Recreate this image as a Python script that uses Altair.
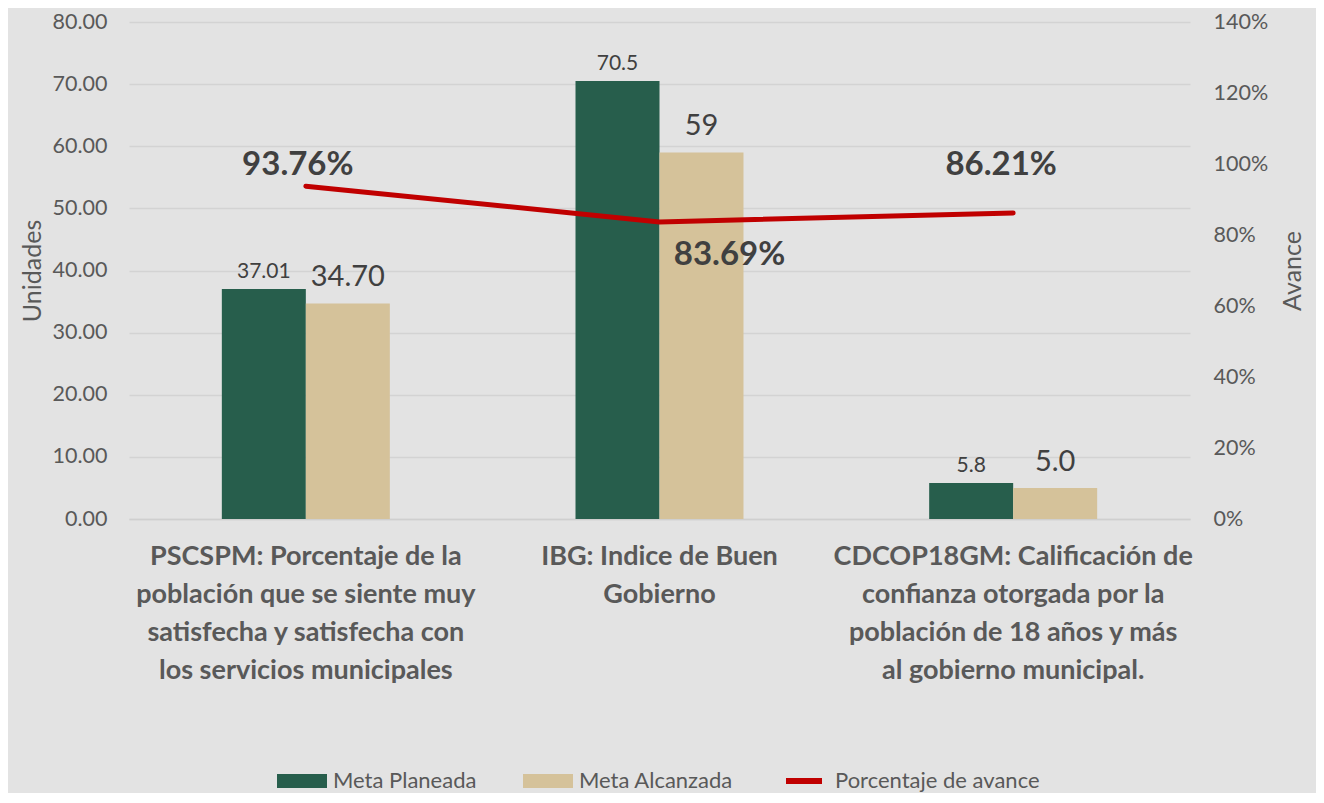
import json
import altair as alt
import pandas as pd

FONT = "Lato"

categories = [
    "PSCSPM: Porcentaje de la población que se siente muy satisfecha y satisfecha con los servicios municipales",
    "IBG: Indice de Buen Gobierno",
    "CDCOP18GM: Calificación de confianza otorgada por la población de 18 años y más al gobierno municipal.",
]
category_lines = [
    ["PSCSPM: Porcentaje de la", "población que se siente muy", "satisfecha y satisfecha con", "los servicios municipales"],
    ["IBG: Indice de Buen", "Gobierno"],
    ["CDCOP18GM: Calificación de", "confianza otorgada por la", "población de 18 años y más", "al gobierno municipal."],
]
series = ["Meta Planeada", "Meta Alcanzada", "Porcentaje de avance"]
meta_planeada = [37.01, 70.5, 5.8]
meta_alcanzada = [34.70, 59.0, 5.0]
planeada_labels = ["37.01", "70.5", "5.8"]
alcanzada_labels = ["34.70", "59", "5.0"]
avance = [0.9376, 0.8369, 0.8621]
avance_labels = ["93.76%", "83.69%", "86.21%"]
colors = ["#275E4C", "#D5C29A", "#C00000"]

bars_df = pd.DataFrame(
    [{"cat": c, "serie": series[0], "value": v, "label": l}
     for c, v, l in zip(categories, meta_planeada, planeada_labels)]
    + [{"cat": c, "serie": series[1], "value": v, "label": l}
       for c, v, l in zip(categories, meta_alcanzada, alcanzada_labels)]
)
line_df = pd.DataFrame({"cat": categories, "avance": avance, "label": avance_labels})
legend_df = pd.DataFrame({"serie": series})

label_expr = " : ".join(
    f"datum.label == {json.dumps(c, ensure_ascii=False)} ? {json.dumps(l, ensure_ascii=False)}"
    for c, l in zip(categories, category_lines)
) + " : datum.label"

PLOT_H = 497

x_axis = alt.Axis(
    title=None, labelExpr=label_expr, labelAngle=0, labelFontSize=27, labelFontWeight="bold",
    labelColor="#595959", labelFont=FONT, labelLineHeight=38, labelPadding=24, labelLimit=500,
    ticks=False, domainColor="#cfcfcf", domainWidth=1.5, grid=False,
)
X = alt.X("cat:N", sort=categories, axis=x_axis,
          scale=alt.Scale(paddingInner=0.525, paddingOuter=0.2625))

y_left_axis = alt.Axis(
    title="Unidades", values=list(range(0, 81, 10)), format=".2f", labelFontSize=21.5,
    labelColor="#595959", labelFont=FONT, labelPadding=22, ticks=False, domain=False,
    grid=True, gridColor="#d3d3d3", gridWidth=1.5, titleFontSize=25, titleFont=FONT,
    titleFontWeight="normal", titleColor="#595959", titleAngle=270,
    titleX=-97, titleY=PLOT_H / 2, titleAlign="center", titleBaseline="middle",
)
Y_LEFT = alt.Y("value:Q", scale=alt.Scale(domain=[0, 80], nice=False), axis=y_left_axis)

y_right_axis = alt.Axis(
    title="Avance", orient="right", values=[0, 0.2, 0.4, 0.6, 0.8, 1.0, 1.2, 1.4], format=".0%",
    labelFontSize=21.5, labelColor="#595959", labelFont=FONT, labelPadding=23, ticks=False,
    domain=False, grid=False, titleFontSize=25, titleFont=FONT, titleFontWeight="normal",
    titleColor="#595959", titleAngle=270, titleX=102, titleY=PLOT_H / 2,
    titleAlign="center", titleBaseline="middle",
)
Y_RIGHT = alt.Y("avance:Q", scale=alt.Scale(domain=[0, 1.4], nice=False), axis=y_right_axis)

color_scale = alt.Scale(domain=series, range=colors)
shape_scale = alt.Scale(
    domain=series,
    range=["M-1,-0.28H1V0.28H-1Z", "M-1,-0.28H1V0.28H-1Z", "M-0.72,-0.12H0.72V0.12H-0.72Z"],
)
XOFF = alt.XOffset("serie:N", sort=series[:2], scale=alt.Scale(domain=series[:2]))

bars = alt.Chart(bars_df).mark_bar(stroke=None).encode(
    x=X, y=Y_LEFT, xOffset=XOFF,
    fill=alt.Fill("serie:N", scale=alt.Scale(domain=series[:2], range=colors[:2]), legend=None),
)

lbl_plan = alt.Chart(bars_df).transform_filter(alt.datum.serie == series[0]).mark_text(
    font=FONT, fontSize=21, color="#404040", baseline="alphabetic", dy=-11
).encode(x=X, y=Y_LEFT, xOffset=XOFF, text="label:N")

lbl_alc = alt.Chart(bars_df).transform_filter(alt.datum.serie == series[1]).mark_text(
    font=FONT, fontSize=29, color="#404040", baseline="alphabetic", dy=-17
).encode(x=X, y=Y_LEFT, xOffset=XOFF, text="label:N")

# legend only: no marks drawn (empty after filter), legend entries come from the scale domain
legend_pts = alt.Chart(legend_df).transform_filter("false").mark_point(
    filled=True, size=2500, opacity=1
).encode(
    color=alt.Color("serie:N", scale=color_scale, legend=alt.Legend(
        title=None, orient="none", direction="horizontal", legendX=148, legendY=734,
        symbolSize=2500, symbolOpacity=1, symbolStrokeWidth=0, labelFontSize=22,
        labelColor="#595959", labelFont=FONT, columnPadding=46, labelOffset=6, labelLimit=500,
    )),
    shape=alt.Shape("serie:N", scale=shape_scale),
)

left = alt.layer(bars, lbl_plan, lbl_alc, legend_pts)

line = alt.Chart(line_df).mark_line(color="#C00000", strokeWidth=5, strokeCap="round",
                                    strokeJoin="round").encode(x=X, y=Y_RIGHT)

offsets = [(-8, -21), (70, 33), (-12, -48)]
line_labels = []
for cat, (dx, dy) in zip(categories, offsets):
    line_labels.append(
        alt.Chart(line_df).transform_filter(alt.datum.cat == cat).mark_text(
            font=FONT, fontSize=33, fontWeight="bold", color="#404040",
            baseline="middle", align="center", dx=dx, dy=dy,
        ).encode(x=X, y=Y_RIGHT, text="label:N")
    )

right = alt.layer(line, *line_labels)

chart = alt.layer(left, right).resolve_scale(y="independent").properties(
    width=1061, height=PLOT_H,
    autosize=alt.AutoSizeParams(type="none"),
    padding={"left": 121, "top": 14, "right": 126, "bottom": 274},
).configure(background="#e3e3e3").configure_view(stroke=None)

chart.save("out.html", embed_options={"renderer": "svg", "actions": False})
